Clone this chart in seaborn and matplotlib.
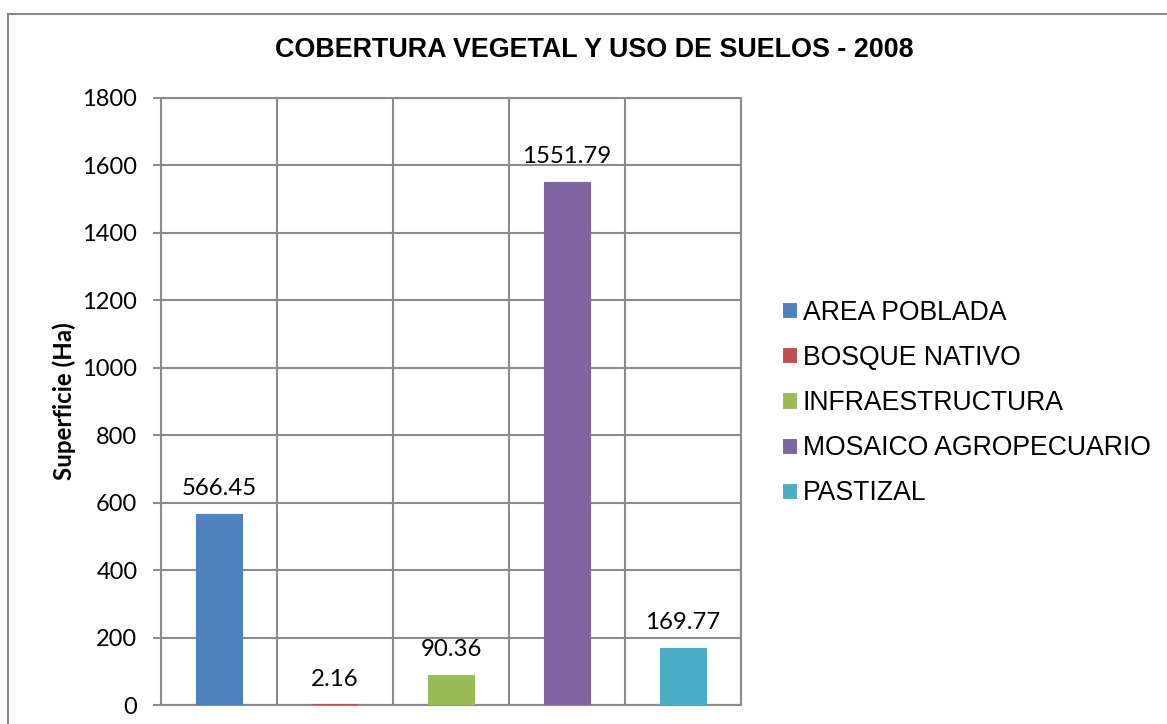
import matplotlib
matplotlib.use("Agg")
import matplotlib.pyplot as plt
import matplotlib.patches as mpatches
import seaborn as sns
import numpy as np

categories = ["AREA POBLADA", "BOSQUE NATIVO", "INFRAESTRUCTURA",
              "MOSAICO AGROPECUARIO", "PASTIZAL"]
values = [566.45, 2.16, 90.36, 1551.79, 169.77]
colors = ["#4F81BD", "#C0504D", "#9BBB59", "#8064A2", "#4BACC6"]
yticks = [0, 200, 400, 600, 800, 1000, 1200, 1400, 1600, 1800]
title = "COBERTURA VEGETAL Y USO DE SUELOS - 2008"
ylabel = "Superficie (Ha)"

sns.set_theme(style="white")
plt.rcParams['font.family'] = ['Liberation Sans', 'DejaVu Sans']
plt.rcParams['text.color'] = 'black'
plt.rcParams['axes.labelcolor'] = 'black'

grid_col = "#8C8C8C"
fig = plt.figure(figsize=(11.67, 7.24), dpi=100)
ax = fig.add_axes([161/1167, 1-705/724, (741-161)/1167, (705-98)/724])

sns.barplot(x=categories, y=values, hue=categories, palette=colors,
            width=0.4, dodge=False, legend=True, ax=ax, saturation=1,
            order=categories, hue_order=categories, zorder=3,
            linewidth=0.8)
for cont in ax.containers:
    for bar in cont:
        bar.set_edgecolor(bar.get_facecolor())

ax.set_xlim(-0.5, len(categories) - 0.5)
ax.set_ylim(0, 1800)
ax.set_yticks(yticks)
ax.set_yticklabels([str(t) for t in yticks], fontfamily='Lato', fontsize=17)
ax.set_xticks([])
ax.set_xticks(np.arange(len(categories) + 1) - 0.5, minor=True)
ax.tick_params(axis='x', which='both', length=0, labelbottom=False)
ax.tick_params(axis='y', which='major', length=6, width=1.5, color=grid_col,
               pad=11, left=True, labelcolor='black')
ax.set_axisbelow(True)
ax.grid(True, axis='y', which='major', color=grid_col, linewidth=1.5)
ax.grid(True, axis='x', which='minor', color=grid_col, linewidth=1.5)
for s in ax.spines.values():
    s.set_color(grid_col)
    s.set_linewidth(1.5)
ax.set_xlabel("")
ax.set_ylabel(ylabel, fontfamily='Lato', fontweight='bold', fontsize=17.4,
              labelpad=4.5, color='black')

for cont in ax.containers:
    for bar in cont:
        h = bar.get_height()
        if np.isnan(h):
            continue
        ax.annotate(f"{h:.2f}", (bar.get_x() + bar.get_width()/2, h),
                    xytext=(0, 18), textcoords='offset points',
                    ha='center', va='center', fontfamily='Lato', fontsize=17.3,
                    color='black')

handles, labels = ax.get_legend_handles_labels()
if ax.get_legend() is not None:
    ax.get_legend().remove()
fig.legend(handles, labels, loc='center left',
           bbox_to_anchor=(782/1167, 1-403/724), bbox_transform=fig.transFigure,
           frameon=False, borderpad=0, borderaxespad=0,
           prop={'family': 'Liberation Sans', 'size': 19.2},
           handlelength=0.56, handleheight=0.56, handletextpad=0.22,
           labelspacing=0.72, labelcolor='black')

fig.text(594/1167, 1-50/724, title, ha='center', va='center',
         fontfamily='Liberation Sans', fontweight='bold', fontsize=19.4,
         color='black')

border = mpatches.Rectangle((8/1167, -0.1), 1.2, 1-14/724 + 0.1,
                            transform=fig.transFigure, fill=False,
                            edgecolor="#868686", linewidth=1.5)
fig.patches.append(border)

fig.savefig("out.png", dpi=100)
